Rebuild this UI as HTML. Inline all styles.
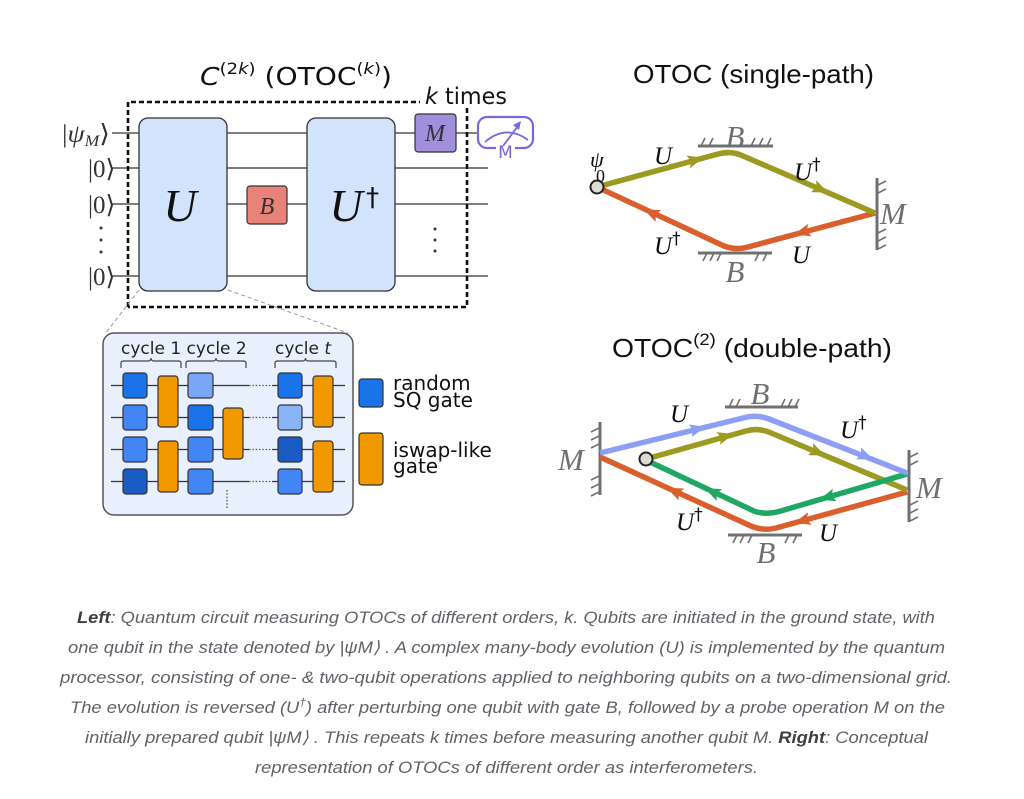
<!DOCTYPE html>
<html><head><meta charset="utf-8">
<style>
html,body{margin:0;padding:0;background:#fff;}
svg{display:block;}
</style></head><body>
<svg width="1024" height="799" viewBox="0 0 1024 799" xmlns="http://www.w3.org/2000/svg">
<defs>
<path id="ah" d="M9 0 L-7 -6.5 L-4 0 L-7 6.5 Z"/>
</defs>
<rect width="1024" height="799" fill="#fff"/>

<!-- ================= LEFT CIRCUIT ================= -->
<text x="200" y="85" font-family="DejaVu Sans, sans-serif" font-size="25" fill="#111" textLength="192" lengthAdjust="spacingAndGlyphs"><tspan font-style="italic">C</tspan><tspan font-size="16" dy="-11">(2</tspan><tspan font-size="16" font-style="italic">k</tspan><tspan font-size="16">)</tspan><tspan dy="11"> (OTOC</tspan><tspan font-size="16" dy="-11">(</tspan><tspan font-size="16" font-style="italic">k</tspan><tspan font-size="16">)</tspan><tspan dy="11">)</tspan></text>

<!-- wires -->
<g stroke="#333" stroke-width="1.3">
<line x1="112" y1="133" x2="478" y2="133"/>
<line x1="112" y1="168" x2="488" y2="168"/>
<line x1="112" y1="204" x2="488" y2="204"/>
<line x1="112" y1="276" x2="488" y2="276"/>
</g>

<!-- ket labels -->
<g font-family="Liberation Serif, serif" font-size="25" fill="#333">
<text x="62" y="142" textLength="48" lengthAdjust="spacingAndGlyphs">|<tspan font-style="italic">ψ</tspan><tspan font-style="italic" font-size="16" dy="4">M</tspan><tspan dy="-4">⟩</tspan></text>
<text x="88" y="177">|0⟩</text>
<text x="88" y="213">|0⟩</text>
<text x="88" y="285">|0⟩</text>
</g>
<g fill="#333">
<circle cx="101" cy="228" r="1.5"/><circle cx="101" cy="240" r="1.5"/><circle cx="101" cy="252" r="1.5"/>
<circle cx="435" cy="229" r="1.5"/><circle cx="435" cy="240" r="1.5"/><circle cx="435" cy="251" r="1.5"/>
</g>

<!-- gates -->
<rect x="139" y="118" width="88" height="173" rx="9" fill="#d2e3fc" stroke="#333" stroke-width="1.3"/>
<rect x="307" y="118" width="88" height="173" rx="9" fill="#d2e3fc" stroke="#333" stroke-width="1.3"/>
<rect x="247" y="186" width="40" height="38" rx="3" fill="#e9837a" stroke="#333" stroke-width="1.2"/>
<rect x="415" y="114" width="41" height="38" rx="3" fill="#9f8fdc" stroke="#333" stroke-width="1.2"/>
<g font-family="Liberation Serif, serif" font-style="italic" fill="#111">
<text x="180" y="221" font-size="46" text-anchor="middle">U</text>
<text x="346" y="221" font-size="46" text-anchor="middle">U</text>
<text x="267" y="214" font-size="24" text-anchor="middle" fill="#333">B</text>
<text x="435" y="141" font-size="24" text-anchor="middle" fill="#333">M</text>
</g>
<text x="366" y="206" font-family="DejaVu Sans, sans-serif" font-size="26" fill="#111">†</text>

<!-- dashed box -->
<path d="M128 307 L128 102 L420 102 M467 108 L467 307 L128 307" fill="none" stroke="#111" stroke-width="2.6" stroke-dasharray="5 3"/>
<text x="425" y="104" font-family="DejaVu Sans, sans-serif" font-size="23" fill="#111" textLength="82" lengthAdjust="spacingAndGlyphs"><tspan font-style="italic">k</tspan> times</text>

<!-- measurement icon -->
<rect x="478" y="117" width="55" height="31" rx="9" fill="#fff" stroke="#7c66dc" stroke-width="2.2"/>
<rect x="496" y="144" width="19" height="8" fill="#fff"/>
<path d="M485 142 Q506 124 528 140" fill="none" stroke="#7c66dc" stroke-width="1.8"/>
<line x1="503" y1="146" x2="518" y2="126" stroke="#7c66dc" stroke-width="1.8"/>
<path d="M521 121 L513 125 L519 130 Z" fill="#7c66dc"/>
<text x="505.5" y="158" font-family="DejaVu Sans, sans-serif" font-size="17" fill="#7c66dc" text-anchor="middle">M</text>

<!-- zoom lines -->
<g stroke="#999" stroke-width="1" stroke-dasharray="4 3">
<line x1="139" y1="290" x2="105" y2="334"/>
<line x1="228" y1="290" x2="348" y2="333"/>
</g>

<!-- inner box -->
<rect x="103" y="333" width="250" height="182" rx="11" fill="#e8f0fe" stroke="#555" stroke-width="1.5"/>
<text x="121" y="354" font-family="DejaVu Sans, sans-serif" font-size="17" fill="#222">cycle 1 cycle 2</text>
<text x="275" y="354" font-family="DejaVu Sans, sans-serif" font-size="17" fill="#222">cycle <tspan font-style="italic">t</tspan></text>
<g fill="none" stroke="#444" stroke-width="1.2">
<path d="M121 368 V363 Q121 361 124 361 H148 Q151 361 151 358 Q151 361 154 361 H178 Q181 361 181 363 V368"/>
<path d="M186 368 V363 Q186 361 189 361 H213 Q216 361 216 358 Q216 361 219 361 H243 Q246 361 246 363 V368"/>
<path d="M275 368 V363 Q275 361 278 361 H302.5 Q305.5 361 305.5 358 Q305.5 361 308.5 361 H333 Q336 361 336 363 V368"/>
</g>
<g stroke="#333" stroke-width="1.3">
<line x1="111" y1="385.5" x2="249" y2="385.5"/><line x1="272" y1="385.5" x2="345" y2="385.5"/>
<line x1="111" y1="417.5" x2="249" y2="417.5"/><line x1="272" y1="417.5" x2="345" y2="417.5"/>
<line x1="111" y1="449.5" x2="249" y2="449.5"/><line x1="272" y1="449.5" x2="345" y2="449.5"/>
<line x1="111" y1="481.5" x2="249" y2="481.5"/><line x1="272" y1="481.5" x2="345" y2="481.5"/>
</g>
<g stroke="#555" stroke-width="1.3" stroke-dasharray="1.5 1.8">
<line x1="249" y1="385.5" x2="272" y2="385.5"/>
<line x1="249" y1="417.5" x2="272" y2="417.5"/>
<line x1="249" y1="449.5" x2="272" y2="449.5"/>
<line x1="249" y1="481.5" x2="272" y2="481.5"/>
<line x1="227" y1="490" x2="227" y2="509"/>
</g>
<g stroke="#333" stroke-width="1.2">
<rect x="123" y="373" width="24" height="25" rx="3" fill="#1a73e8"/>
<rect x="123" y="405" width="24" height="25" rx="3" fill="#4285f4"/>
<rect x="123" y="437" width="24" height="25" rx="3" fill="#4285f4"/>
<rect x="123" y="469" width="24" height="25" rx="3" fill="#1a5bc4"/>
<rect x="188" y="373" width="25" height="25" rx="3" fill="#79a6f6"/>
<rect x="188" y="405" width="25" height="25" rx="3" fill="#1a73e8"/>
<rect x="188" y="437" width="25" height="25" rx="3" fill="#4285f4"/>
<rect x="188" y="469" width="25" height="25" rx="3" fill="#4285f4"/>
<rect x="278" y="373" width="24" height="25" rx="3" fill="#1a73e8"/>
<rect x="278" y="405" width="24" height="25" rx="3" fill="#8ab4f8"/>
<rect x="278" y="437" width="24" height="25" rx="3" fill="#1a5bc4"/>
<rect x="278" y="469" width="24" height="25" rx="3" fill="#4285f4"/>
<rect x="158" y="376" width="20" height="51" rx="3" fill="#f29900"/>
<rect x="158" y="441" width="20" height="51" rx="3" fill="#f29900"/>
<rect x="223" y="408" width="20" height="51" rx="3" fill="#f29900"/>
<rect x="313" y="376" width="20" height="51" rx="3" fill="#f29900"/>
<rect x="313" y="441" width="20" height="51" rx="3" fill="#f29900"/>
<rect x="359" y="379" width="24" height="28" rx="3" fill="#1a73e8"/>
<rect x="359" y="433" width="24" height="52" rx="3" fill="#f29900"/>
</g>
<g font-family="DejaVu Sans, sans-serif" font-size="20" fill="#111">
<text x="393" y="390">random</text>
<text x="393" y="407">SQ gate</text>
<text x="393" y="457">iswap-like</text>
<text x="393" y="473">gate</text>
</g>

<!-- ================= RIGHT: SINGLE PATH ================= -->
<text x="633" y="83" font-family="Liberation Sans, sans-serif" font-size="26" fill="#111" textLength="241" lengthAdjust="spacingAndGlyphs">OTOC  (single-path)</text>

<g stroke="#707070" stroke-width="3">
<line x1="698" y1="146" x2="773" y2="146"/>
<line x1="698" y1="253" x2="772" y2="253"/>
<line x1="877" y1="178" x2="877" y2="250"/>
</g>
<g stroke="#707070" stroke-width="1.6">
<line x1="701" y1="146" x2="705" y2="138"/><line x1="709" y1="146" x2="713" y2="138"/>
<line x1="751" y1="146" x2="755" y2="138"/><line x1="759" y1="146" x2="763" y2="138"/><line x1="767" y1="146" x2="771" y2="138"/>
<line x1="707" y1="253" x2="703" y2="261"/><line x1="714" y1="253" x2="710" y2="261"/><line x1="721" y1="253" x2="717" y2="261"/>
<line x1="759" y1="253" x2="755" y2="261"/><line x1="767" y1="253" x2="763" y2="261"/>
<line x1="878" y1="185" x2="886" y2="181"/><line x1="878" y1="193" x2="886" y2="189"/>
<line x1="878" y1="233" x2="886" y2="229"/><line x1="878" y1="241" x2="886" y2="237"/><line x1="878" y1="249" x2="886" y2="245"/>
</g>
<g font-family="Liberation Serif, serif" font-style="italic" font-size="31" fill="#707070">
<text x="735" y="147" text-anchor="middle">B</text>
<text x="735" y="282" text-anchor="middle">B</text>
<text x="880" y="224">M</text>
</g>

<path d="M875 213 L748 247 Q736 250.5 724 246 L597 187" fill="none" stroke="#d95f2c" stroke-width="5.5" stroke-linejoin="round"/>
<path d="M597 187 L718 154 Q730 150.5 742 155.5 L875 213" fill="none" stroke="#9d9a22" stroke-width="5.5" stroke-linejoin="round"/>
<use href="#ah" fill="#9d9a22" transform="translate(695,160) rotate(-15.5)"/>
<use href="#ah" fill="#9d9a22" transform="translate(820,189) rotate(23.7)"/>
<use href="#ah" fill="#d95f2c" transform="translate(652,213) rotate(205)"/>
<use href="#ah" fill="#d95f2c" transform="translate(803,232) rotate(164.5)"/>
<circle cx="597" cy="187" r="6.5" fill="#dcdcd2" stroke="#222" stroke-width="2"/>
<g font-family="Liberation Serif, serif" font-style="italic" font-size="25" fill="#111">
<text x="590" y="167" font-size="22">ψ</text>
<text x="596" y="182" font-size="18" font-style="normal">0</text>
<text x="654" y="164">U</text>
<text x="794" y="180">U<tspan font-family="DejaVu Sans, sans-serif" font-style="normal" font-size="17" dy="-10">†</tspan></text>
<text x="654" y="254">U<tspan font-family="DejaVu Sans, sans-serif" font-style="normal" font-size="17" dy="-10">†</tspan></text>
<text x="792" y="263">U</text>
</g>

<!-- ================= RIGHT: DOUBLE PATH ================= -->
<text x="612" y="357" font-family="Liberation Sans, sans-serif" font-size="26" fill="#111" textLength="280" lengthAdjust="spacingAndGlyphs">OTOC<tspan font-size="17" dy="-12">(2)</tspan><tspan dy="12">  (double-path)</tspan></text>

<g stroke="#707070" stroke-width="3">
<line x1="725" y1="407" x2="798" y2="407"/>
<line x1="728" y1="535" x2="802" y2="535"/>
<line x1="600" y1="422" x2="600" y2="495"/>
<line x1="909" y1="450" x2="909" y2="522"/>
</g>
<g stroke="#707070" stroke-width="1.6">
<line x1="729" y1="407" x2="733" y2="399"/><line x1="736" y1="407" x2="740" y2="399"/>
<line x1="781" y1="407" x2="785" y2="399"/><line x1="788" y1="407" x2="792" y2="399"/><line x1="795" y1="407" x2="799" y2="399"/>
<line x1="737" y1="535" x2="733" y2="543"/><line x1="744" y1="535" x2="740" y2="543"/><line x1="752" y1="535" x2="748" y2="543"/>
<line x1="789" y1="535" x2="785" y2="543"/><line x1="797" y1="535" x2="793" y2="543"/>
<line x1="599" y1="428" x2="591" y2="432"/><line x1="599" y1="436" x2="591" y2="440"/><line x1="599" y1="444" x2="591" y2="448"/>
<line x1="599" y1="476" x2="591" y2="480"/><line x1="599" y1="484" x2="591" y2="488"/><line x1="599" y1="492" x2="591" y2="496"/>
<line x1="910" y1="457" x2="918" y2="453"/><line x1="910" y1="465" x2="918" y2="461"/>
<line x1="910" y1="505" x2="918" y2="501"/><line x1="910" y1="513" x2="918" y2="509"/><line x1="910" y1="521" x2="918" y2="517"/>
</g>
<g font-family="Liberation Serif, serif" font-style="italic" font-size="31" fill="#707070">
<text x="760" y="404" text-anchor="middle">B</text>
<text x="766" y="563" text-anchor="middle">B</text>
<text x="558" y="470">M</text>
<text x="916" y="498">M</text>
</g>

<path d="M907 492 L776 528 Q764 531 752 526.5 L600 457" fill="none" stroke="#d95f2c" stroke-width="5.5" stroke-linejoin="round"/>
<path d="M646 459 L746 431 Q758 427.5 770 432.5 L907 490" fill="none" stroke="#9d9a22" stroke-width="5.5" stroke-linejoin="round"/>
<path d="M907 474 L779 511.5 Q767 515 755 511.5 L650 462" fill="none" stroke="#1fa863" stroke-width="5.5" stroke-linejoin="round"/>
<path d="M600 453 L745 417.5 Q757 414.5 769 419 L907 473" fill="none" stroke="#8c9ef5" stroke-width="5.5" stroke-linejoin="round"/>
<use href="#ah" fill="#8c9ef5" transform="translate(697,429) rotate(-13.8)"/>
<use href="#ah" fill="#8c9ef5" transform="translate(865,456) rotate(21.9)"/>
<use href="#ah" fill="#9d9a22" transform="translate(725,436.5) rotate(-16)"/>
<use href="#ah" fill="#9d9a22" transform="translate(817,452) rotate(22.9)"/>
<use href="#ah" fill="#1fa863" transform="translate(828,497) rotate(163.3)"/>
<use href="#ah" fill="#1fa863" transform="translate(713,492) rotate(205.4)"/>
<use href="#ah" fill="#d95f2c" transform="translate(803,520.5) rotate(164.5)"/>
<use href="#ah" fill="#d95f2c" transform="translate(675,491.5) rotate(204.7)"/>
<circle cx="646" cy="459" r="6.5" fill="#dcdcd2" stroke="#222" stroke-width="2"/>
<g font-family="Liberation Serif, serif" font-style="italic" font-size="25" fill="#111">
<text x="670" y="422">U</text>
<text x="840" y="438">U<tspan font-family="DejaVu Sans, sans-serif" font-style="normal" font-size="17" dy="-10">†</tspan></text>
<text x="676" y="530">U<tspan font-family="DejaVu Sans, sans-serif" font-style="normal" font-size="17" dy="-10">†</tspan></text>
<text x="819" y="541">U</text>
</g>

<!-- ================= CAPTION ================= -->
<g font-family="Liberation Sans, sans-serif" font-style="italic" font-size="17" fill="#5f6368">
<text x="77" y="623" textLength="858" lengthAdjust="spacingAndGlyphs"><tspan font-weight="bold" fill="#3c4043">Left</tspan>: Quantum circuit measuring OTOCs of different orders, k. Qubits are initiated in the ground state, with</text>
<text x="68" y="653" textLength="877" lengthAdjust="spacingAndGlyphs">one qubit in the state denoted by |ψM⟩ . A complex many-body evolution (U) is implemented by the quantum</text>
<text x="60" y="683" textLength="892" lengthAdjust="spacingAndGlyphs">processor, consisting of one- &amp; two-qubit operations applied to neighboring qubits on a two-dimensional grid.</text>
<text x="70" y="713" textLength="875" lengthAdjust="spacingAndGlyphs">The evolution is reversed (U<tspan font-size="11" dy="-7">†</tspan><tspan dy="7">) after perturbing one qubit with gate B, followed by a probe operation M on the</tspan></text>
<text x="85" y="743" textLength="843" lengthAdjust="spacingAndGlyphs">initially prepared qubit |ψM⟩ . This repeats k times before measuring another qubit M. <tspan font-weight="bold" fill="#3c4043">Right</tspan>: Conceptual</text>
<text x="255" y="773" textLength="503" lengthAdjust="spacingAndGlyphs">representation of OTOCs of different order as interferometers.</text>
</g>
</svg>
</body></html>
